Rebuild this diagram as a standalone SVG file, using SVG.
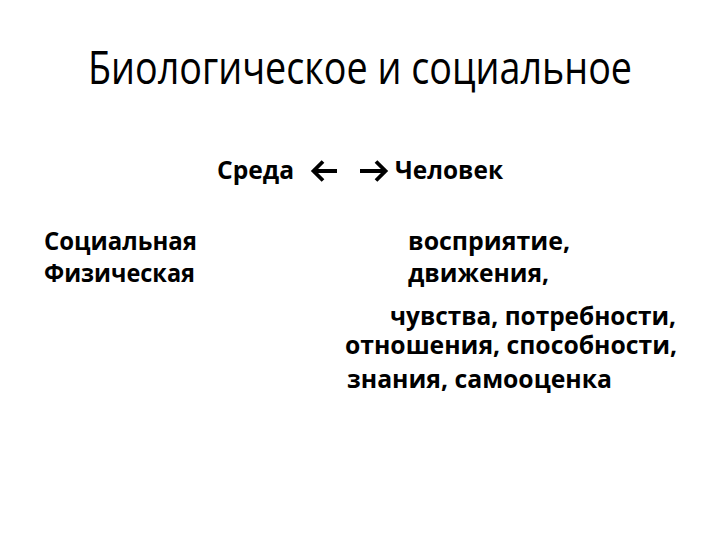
<svg xmlns="http://www.w3.org/2000/svg" width="720" height="540" viewBox="0 0 720 540">
<style>
.t{font-family:"Open Sans","Noto Sans","Liberation Sans",sans-serif;fill:#000}
.title{font-size:45px;font-weight:400}
.b{font-size:25px;font-weight:700}
.arr{fill:none;stroke:#000;stroke-width:3.8;stroke-linecap:butt;stroke-linejoin:miter}
</style>
<rect width="720" height="540" fill="#fff"/>
<g id="title"><text class="t title" x="88" y="84" textLength="544" lengthAdjust="spacingAndGlyphs">Биологическое и социальное</text></g>
<g id="sreda"><text class="t b" x="217" y="179" textLength="77" lengthAdjust="spacingAndGlyphs">Среда</text></g>
<g id="chelovek"><text class="t b" x="395" y="179" textLength="108" lengthAdjust="spacingAndGlyphs">Человек</text></g>
<g id="connectors">
<path class="arr" d="M313,171 H337 M323,161.5 L313.5,171 L323,180.5"/>
<path class="arr" d="M360,171 H386 M376,161.5 L385.5,171 L376,180.5"/>
</g>
<g id="left">
<text class="t b" x="44" y="250" textLength="153" lengthAdjust="spacingAndGlyphs">Социальная</text>
<text class="t b" x="44" y="282" textLength="151" lengthAdjust="spacingAndGlyphs">Физическая</text>
</g>
<g id="right">
<text class="t b" x="408" y="250" textLength="162" lengthAdjust="spacingAndGlyphs">восприятие,</text>
<text class="t b" x="408" y="282" textLength="141" lengthAdjust="spacingAndGlyphs">движения,</text>
<text class="t b" x="390" y="325" textLength="286" lengthAdjust="spacingAndGlyphs">чувства, потребности,</text>
<text class="t b" x="345" y="354" textLength="332" lengthAdjust="spacingAndGlyphs">отношения, способности,</text>
<text class="t b" x="347" y="388" textLength="265" lengthAdjust="spacingAndGlyphs">знания, самооценка</text>
</g>
</svg>
